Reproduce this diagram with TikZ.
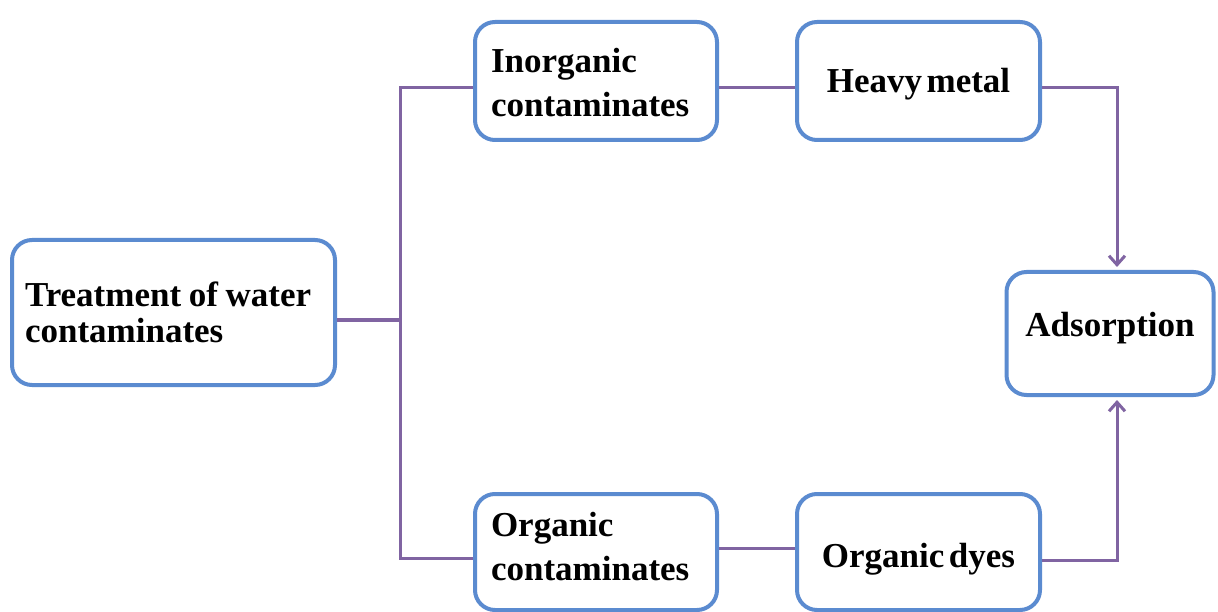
\documentclass[tikz,border=0pt]{standalone}
\usepackage{fontspec}
\setmainfont{Liberation Serif}
\usetikzlibrary{arrows.meta}
\definecolor{boxblue}{HTML}{5B8BD0}
\definecolor{linepurple}{HTML}{8064A2}
\newcommand\mytightsp{\fontdimen2\font=4.5pt\fontdimen3\font=0pt\fontdimen4\font=0pt\relax}
\begin{document}
\begin{tikzpicture}[x=1pt,y=-1pt,
  box/.style={draw=boxblue,line width=4pt,rounded corners=20pt,fill=white,
    inner sep=0pt,font=\fontsize{35}{44}\selectfont\bfseries\mytightsp},
  conn/.style={draw=linepurple,line width=3pt},
  arr/.style={conn,-{Straight Barb[length=9pt,width=16pt,line width=3pt]},shorten >=3pt}]
\useasboundingbox (0,0) rectangle (1218,612);
\fill[white] (0,0) rectangle (1218,612);
\node[box,minimum width=323pt,minimum height=145pt,text width=297pt,align=left,
  font=\fontsize{35}{36.5}\selectfont\bfseries\mytightsp] (treat) at (173.5,312.5) {Treatment\kern-4pt\ of\kern-4pt\ water\\contaminates};
\node[box,minimum width=242pt,minimum height=118pt,text width=210pt,align=left,text height=28pt] (inorg) at (596,81) {Inorganic\\contaminates};
\node[box,minimum width=243pt,minimum height=118pt,align=center,text height=32pt,text depth=8pt] (heavy) at (918.5,81) {Heavy metal};
\node[box,minimum width=207pt,minimum height=123pt,align=center,text depth=18pt] (ads) at (1110,333.5) {Adsorption};
\node[box,minimum width=242pt,minimum height=116pt,text width=210pt,align=left,text depth=56pt] (org) at (596,552) {Organic\\contaminates};
\node[box,minimum width=243pt,minimum height=116pt,align=center,text height=38pt,text depth=8pt] (dyes) at (918.5,552) {Organic dyes};
\coordinate (j) at (400,320);
\draw[conn] (treat.east |- j) -- (j);
\draw[conn] ([yshift=-7pt]inorg.west) -| (j);
\draw[conn] ([yshift=-6pt]org.west) -| (j);
\draw[conn] ([yshift=-7pt]inorg.east) -- ([yshift=-7pt]heavy.west);
\draw[conn] ([yshift=4pt]org.east) -- ([yshift=4pt]dyes.west);
\draw[arr] ([yshift=-7pt]heavy.east) -| ([xshift=7pt]ads.north);
\draw[arr] ([yshift=-8pt]dyes.east) -| ([xshift=7pt]ads.south);
\end{tikzpicture}
\end{document}
